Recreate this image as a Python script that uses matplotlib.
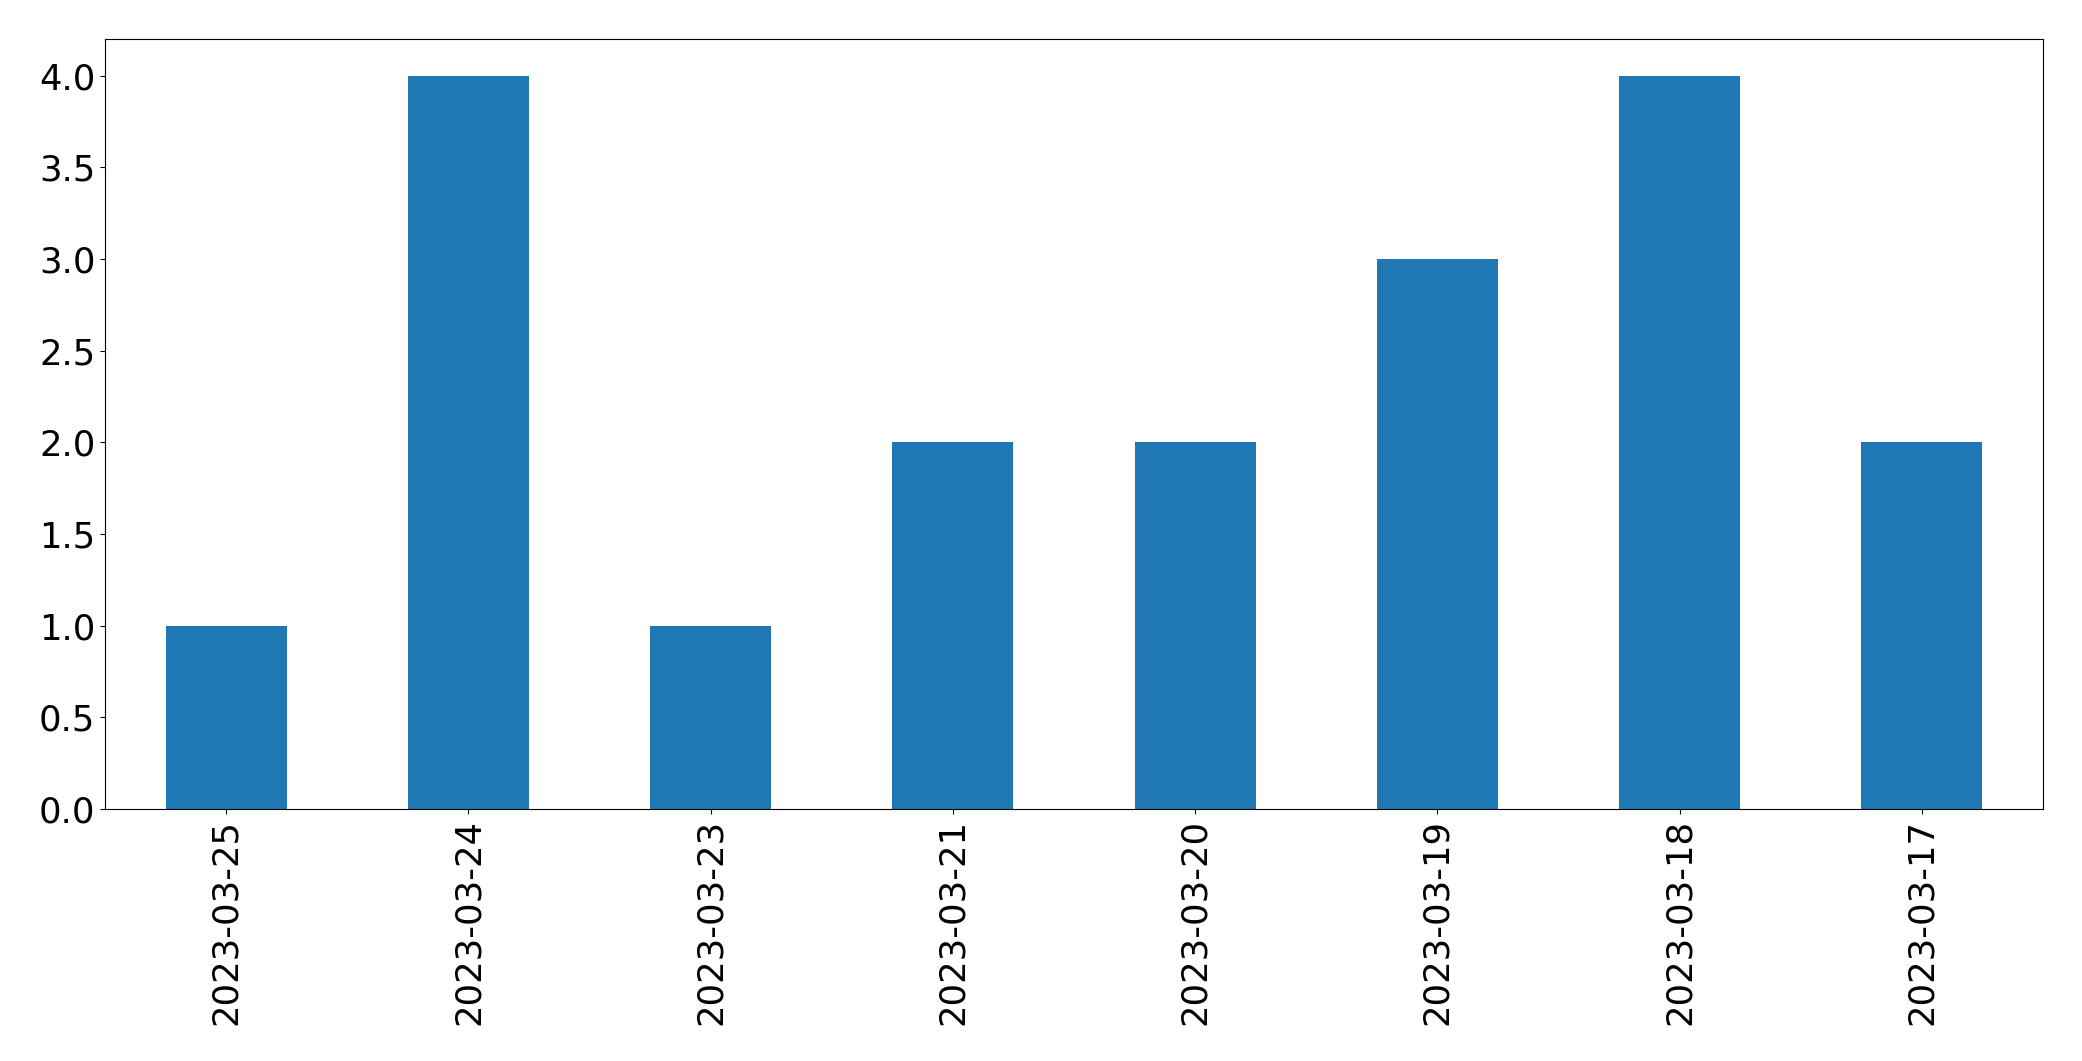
import pandas as pd
import matplotlib.pyplot as plt

# Datos
fechas = ['2023-03-25', '2023-03-24', '2023-03-23', '2023-03-21',
          '2023-03-20', '2023-03-19', '2023-03-18', '2023-03-17']
conteos = [1, 4, 1, 2, 2, 3, 4, 2]

serie = pd.Series(conteos, index=fechas)

fig = plt.figure(figsize=(20.82, 10.61), dpi=100)
ax = fig.add_axes([105 / 2082, 1 - 809 / 1061, (2043 - 105) / 2082, (809 - 39) / 1061])

serie.plot(kind='bar', ax=ax, color='#1f77b4', fontsize=25.5)
ax.tick_params(axis='x', labelrotation=90)

fig.savefig('out.png', dpi=100)
